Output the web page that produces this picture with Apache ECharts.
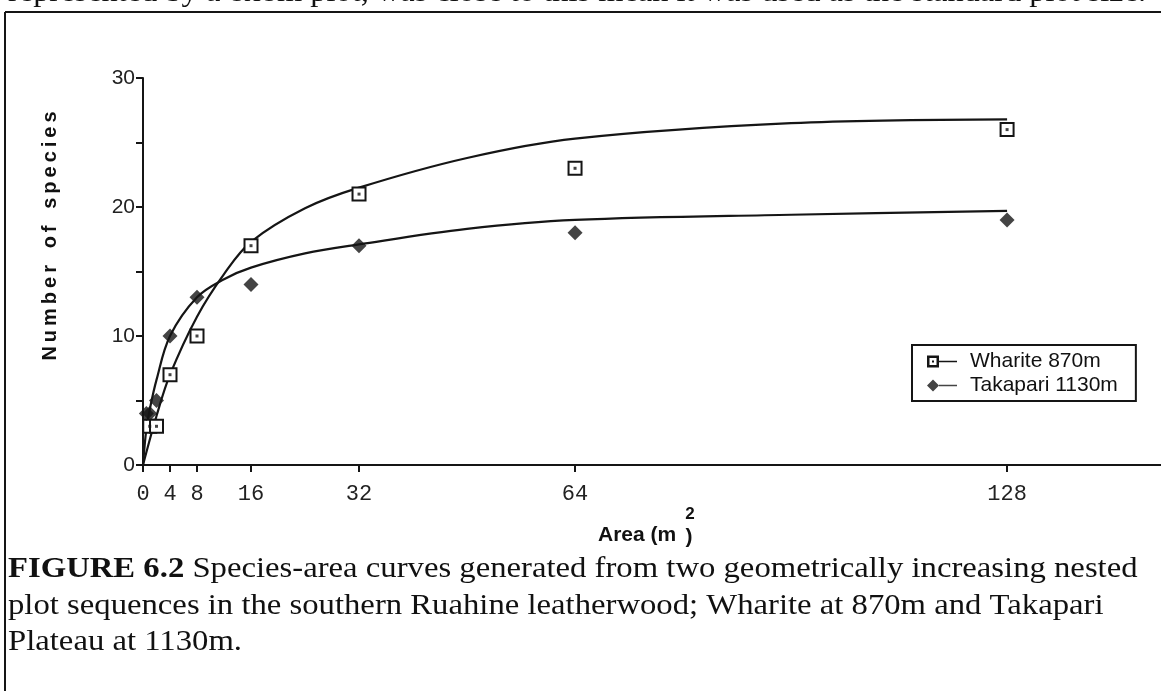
<!DOCTYPE html>
<html>
<head>
<meta charset="utf-8">
<script src="https://cdn.jsdelivr.net/npm/echarts@6/dist/echarts.min.js"></script>
<style>
html,body{margin:0;padding:0;background:#fff;}
#chart{width:1161px;height:691px;}
</style>
</head>
<body>
<div id="chart"></div>
<script>
// ---- data ----
const areaTicks = [0, 4, 8, 16, 32, 64, 128];
const speciesTicks = [0, 10, 20, 30];

const whariteArea = [1, 2, 4, 8, 16, 32, 64, 128];
const whariteSpecies = [3, 3, 7, 10, 17, 21, 23, 26];

const takapariArea = [0.5, 1, 2, 4, 8, 16, 32, 64, 128];
const takapariSpecies = [4, 4, 5, 10, 13, 14, 17, 18, 19];

const whariteCurveArea = [0, 2, 4, 8, 12, 16, 24, 32, 48, 64, 96, 128];
const whariteCurveSpecies = [0, 3.8, 7, 11.5, 14.8, 17.3, 19.9, 21.5, 23.8, 25.3, 26.5, 26.8];

const takapariCurveArea = [0, 0.5, 1, 2, 4, 8, 12, 16, 24, 32, 48, 64, 96, 128];
const takapariCurveSpecies = [0, 2.8, 4.3, 6.6, 10, 13, 14.4, 15.3, 16.4, 17.1, 18.3, 19, 19.4, 19.7];

const seriesNames = ['Wharite 870m', 'Takapari 1130m'];
const yTitle = 'Number of species';
const xTitle = 'Area (m';
const captionLines = [
  'Species-area curves generated from two geometrically increasing nested',
  'plot sequences in the southern Ruahine leatherwood; Wharite at 870m and Takapari',
  'Plateau at 1130m.'
];
const captionLabel = 'FIGURE 6.2';
const topText = 'represented by a 8x8m plot, was close to this mean it was used as the standard plot size.';

// ---- helpers ----
const zip = (a, b) => a.map((v, i) => [v, b[i]]);
const spaced = s => s.split(' ').map(w => w.split('').join('\u2009')).join('   ');

const ink = '#151515';
const chart = echarts.init(document.getElementById('chart'), null, {renderer: 'canvas'});

const squareIcon = 'path://M0,0 H12 V12 H0 Z M2.5,2.5 V9.5 H9.5 V2.5 Z M5,5 H7 V7 H5 Z M12,5.2 H30 V6.8 H12 Z';
const diamondIcon = 'path://M6,0 L12,6 L6,12 L0,6 Z M12,5.2 H30 V6.8 H12 Z';

const serif = {fontFamily: 'Liberation Serif', fontSize: 30, fill: '#111', verticalAlign: 'middle'};

const option = {
  backgroundColor: '#fff',
  animation: false,
  grid: {left: 143, right: 0, top: 78, bottom: 226},
  xAxis: {
    type: 'value', min: 0, max: 150.8,
    axisLine: {lineStyle: {color: ink, width: 2}},
    axisTick: {customValues: areaTicks, length: 7, lineStyle: {color: ink, width: 2}},
    axisLabel: {customValues: areaTicks, fontFamily: 'Liberation Mono', fontSize: 22, color: '#222', margin: 18},
    splitLine: {show: false}
  },
  yAxis: {
    type: 'value', min: 0, max: 30, interval: 5,
    axisLine: {show: true, lineStyle: {color: ink, width: 2}},
    axisTick: {length: 7, lineStyle: {color: ink, width: 2}},
    axisLabel: {
      fontFamily: 'Liberation Sans', fontSize: 21, color: '#222', margin: 8,
      formatter: v => speciesTicks.indexOf(v) >= 0 ? String(v) : ''
    },
    splitLine: {show: false}
  },
  legend: {
    orient: 'vertical', left: 912, top: 345,
    selectedMode: false,
    borderColor: ink, borderWidth: 2,
    padding: [6, 18, 5, 15],
    itemGap: 3, itemWidth: 30, itemHeight: 12,
    itemStyle: {color: ink, borderWidth: 0},
    textStyle: {fontFamily: 'Liberation Sans', fontSize: 21, color: '#111', padding: [0, 0, 0, 8]},
    data: [
      {name: seriesNames[0], icon: squareIcon},
      {name: seriesNames[1], icon: diamondIcon}
    ]
  },
  series: [
    {
      name: 'Wharite curve', type: 'line', smooth: 0.35,
      showSymbol: false, silent: true,
      lineStyle: {color: ink, width: 2.2},
      data: zip(whariteCurveArea, whariteCurveSpecies), z: 2
    },
    {
      name: 'Takapari curve', type: 'line', smooth: 0.35,
      showSymbol: false, silent: true,
      lineStyle: {color: ink, width: 2.2},
      data: zip(takapariCurveArea, takapariCurveSpecies), z: 2
    },
    {
      name: seriesNames[0], type: 'scatter', symbol: 'rect', symbolSize: 13,
      itemStyle: {color: '#fff', borderColor: ink, borderWidth: 2, opacity: 1},
      data: zip(whariteArea, whariteSpecies), z: 4
    },
    {
      name: 'Wharite dot', type: 'scatter', symbol: 'rect', symbolSize: 3,
      itemStyle: {color: ink},
      data: zip(whariteArea, whariteSpecies), z: 5
    },
    {
      name: seriesNames[1], type: 'scatter', symbol: 'diamond', symbolSize: [15, 15],
      itemStyle: {color: ink},
      data: zip(takapariArea, takapariSpecies), z: 4
    }
  ],
  graphic: [
    // figure frame
    {type: 'line', shape: {x1: 5, y1: 12, x2: 1161, y2: 12}, style: {stroke: ink, lineWidth: 2}},
    {type: 'line', shape: {x1: 5, y1: 12, x2: 5, y2: 691}, style: {stroke: ink, lineWidth: 2}},
    // clipped line of preceding text
    {type: 'text', x: 8, y: -7, scaleX: 1.08,
      style: Object.assign({}, serif, {text: topText})},
    // y axis title
    {type: 'text', x: 50, y: 236, rotation: Math.PI / 2,
      style: {text: spaced(yTitle), fontFamily: 'Liberation Sans', fontWeight: 'bold', fontSize: 20, fill: '#111', align: 'center', verticalAlign: 'middle'}},
    // x axis title
    {type: 'text', x: 598, y: 535,
      style: {text: xTitle, fontFamily: 'Liberation Sans', fontWeight: 'bold', fontSize: 21, fill: '#111', align: 'left', verticalAlign: 'middle'}},
    {type: 'text', x: 690, y: 514,
      style: {text: '2', fontFamily: 'Liberation Sans', fontWeight: 'bold', fontSize: 17, fill: '#111', align: 'center', verticalAlign: 'middle'}},
    {type: 'text', x: 689, y: 537,
      style: {text: ')', fontFamily: 'Liberation Sans', fontWeight: 'bold', fontSize: 21, fill: '#111', align: 'center', verticalAlign: 'middle'}},
    // caption
    {type: 'text', x: 8, y: 569, scaleX: 1.09,
      style: Object.assign({}, serif, {text: '{b|' + captionLabel + '} ' + captionLines[0],
        rich: {b: {fontFamily: 'Liberation Serif', fontWeight: 'bold', fontSize: 30, fill: '#111'}}})},
    {type: 'text', x: 8, y: 606, scaleX: 1.09,
      style: Object.assign({}, serif, {text: captionLines[1]})},
    {type: 'text', x: 8, y: 642, scaleX: 1.09,
      style: Object.assign({}, serif, {text: captionLines[2]})}
  ]
};
chart.setOption(option);
</script>
</body>
</html>
